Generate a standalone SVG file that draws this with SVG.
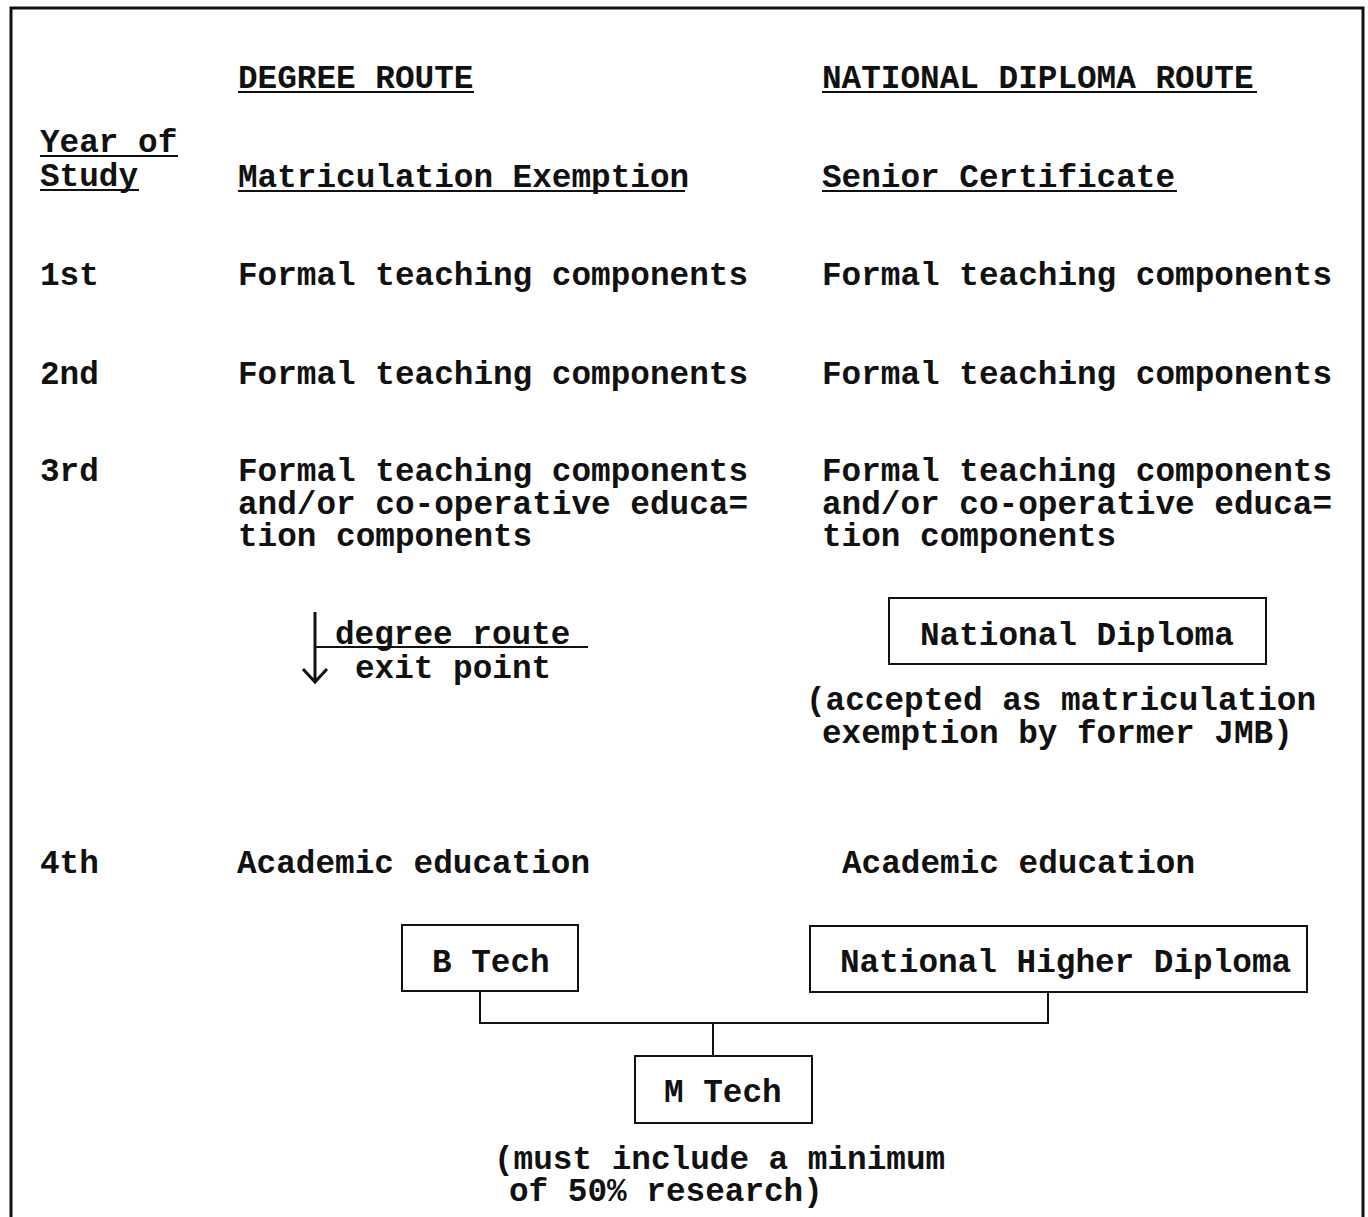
<svg xmlns="http://www.w3.org/2000/svg" width="1368" height="1217" viewBox="0 0 1368 1217">
  <style>
    text { font-family: "Liberation Mono", "Courier New", monospace; font-size: 32.7px; font-weight: bold; fill: #111; }
    .ul { stroke: #111; stroke-width: 2; }
    .box { fill: none; stroke: #111; stroke-width: 2; }
    .wire { fill: none; stroke: #111; stroke-width: 2; }
  </style>
  <rect width="1368" height="1217" fill="#fff"/>

  <!-- outer frame -->
  <path d="M11,1217 V8 H1363 V1217" fill="none" stroke="#111" stroke-width="3"/>

  <!-- column headings -->
  <g id="headings">
    <text x="238" y="88">DEGREE ROUTE</text>
    <line class="ul" x1="238" y1="92" x2="474" y2="92"/>
    <text x="822" y="88">NATIONAL DIPLOMA ROUTE</text>
    <line class="ul" x1="822" y1="92" x2="1257" y2="92"/>
    <text x="40" y="152">Year of</text>
    <line class="ul" x1="40" y1="156" x2="178" y2="156"/>
    <text x="40" y="186">Study</text>
    <line class="ul" x1="40" y1="190" x2="139" y2="190"/>
    <text x="238" y="187">Matriculation Exemption</text>
    <line class="ul" x1="238" y1="191" x2="685" y2="191"/>
    <text x="822" y="187">Senior Certificate</text>
    <line class="ul" x1="822" y1="191" x2="1177" y2="191"/>
  </g>

  <!-- years of study -->
  <g id="years">
    <text x="40" y="285">1st</text>
    <text x="40" y="384">2nd</text>
    <text x="40" y="481">3rd</text>
    <text x="40" y="873">4th</text>
  </g>

  <g id="degree-route">
    <text x="238" y="285">Formal teaching components</text>
    <text x="238" y="384">Formal teaching components</text>
    <text x="238" y="481">Formal teaching components</text>
    <text x="238" y="514">and/or co-operative educa=</text>
    <text x="238" y="546">tion components</text>
    <text x="237" y="873">Academic education</text>
  </g>

  <g id="diploma-route">
    <text x="822" y="285">Formal teaching components</text>
    <text x="822" y="384">Formal teaching components</text>
    <text x="822" y="481">Formal teaching components</text>
    <text x="822" y="514">and/or co-operative educa=</text>
    <text x="822" y="546">tion components</text>
    <text x="842" y="873">Academic education</text>
  </g>

  <!-- degree route exit point -->
  <g id="exit-point">
    <line x1="315" y1="612" x2="315" y2="682" stroke="#111" stroke-width="3"/>
    <polyline points="303,669 315,682 327,669" fill="none" stroke="#111" stroke-width="3"/>
    <line class="ul" x1="315" y1="647" x2="588" y2="647"/>
    <text x="335" y="644">degree route</text>
    <text x="355" y="678">exit point</text>
  </g>

  <g id="national-diploma">
    <rect class="box" x="889" y="598" width="377" height="66"/>
    <text x="920" y="645">National Diploma</text>
    <text x="806" y="710">(accepted as matriculation</text>
    <text x="822" y="743">exemption by former JMB)</text>
  </g>

  <g id="b-tech">
    <rect class="box" x="402" y="925" width="176" height="66"/>
    <text x="432" y="972">B Tech</text>
  </g>

  <g id="nhd">
    <rect class="box" x="810" y="926" width="497" height="66"/>
    <text x="840" y="972">National Higher Diploma</text>
  </g>

  <g id="m-tech">
    <rect class="box" x="635" y="1056" width="177" height="67"/>
    <text x="664" y="1102">M Tech</text>
    <text x="494" y="1169">(must include a minimum</text>
    <text x="509" y="1201">of 50% research)</text>
  </g>

  <g id="connectors">
    <path class="wire" d="M480,991 V1023 H1048 V992"/>
    <path class="wire" d="M713,1023 V1056"/>
  </g>
</svg>
